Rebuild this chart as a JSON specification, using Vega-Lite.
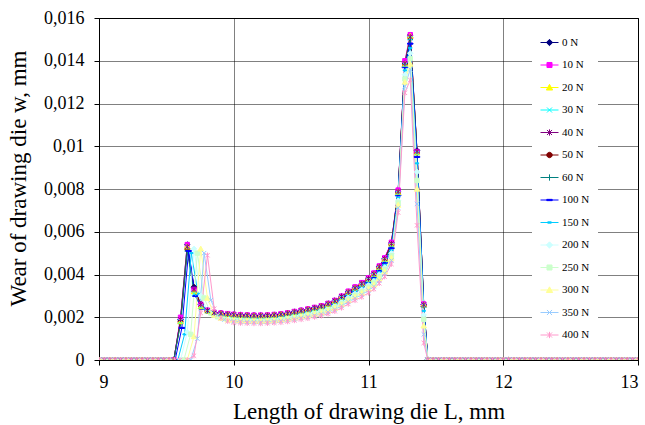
{
"$schema": "https://vega.github.io/schema/vega-lite/v6.json",
"width": 539,
"height": 342,
"autosize": {"type": "none"},
"padding": {"left": 99, "top": 18, "right": 7, "bottom": 65},
"background": "white",
"config": {
  "view": {"stroke": "black", "strokeWidth": 1},
  "font": "Liberation Serif, Times New Roman, DejaVu Serif, serif",
  "axis": {
    "domainColor": "black", "tickColor": "black", "labelColor": "black", "titleColor": "black",
    "labelFont": "Liberation Serif, Times New Roman, DejaVu Serif, serif", "titleFont": "Liberation Serif, Times New Roman, DejaVu Serif, serif",
    "labelFontSize": 18, "titleFontSize": 23, "titleFontWeight": "normal",
    "gridColor": "black", "gridDash": [1, 1], "gridOpacity": 1, "gridWidth": 1,
    "tickSize": 5
  }
},
"data": {"values": [
{"s":0,"x":9,"w":0},{"s":0,"x":9.04,"w":0},{"s":0,"x":9.08,"w":0},{"s":0,"x":9.12,"w":0},{"s":0,"x":9.16,"w":0},{"s":0,"x":9.2,"w":0},{"s":0,"x":9.24,"w":0},{"s":0,"x":9.28,"w":0},{"s":0,"x":9.32,"w":0},{"s":0,"x":9.36,"w":0},{"s":0,"x":9.4,"w":0},{"s":0,"x":9.44,"w":0},{"s":0,"x":9.48,"w":0},{"s":0,"x":9.52,"w":0},
{"s":0,"x":9.555,"w":0},{"s":0,"x":9.605,"w":0.0019},{"s":0,"x":9.655,"w":0.0054},{"s":0,"x":9.705,"w":0.0034},{"s":0,"x":9.755,"w":0.0026},{"s":0,"x":9.805,"w":0.00232},{"s":0,"x":9.855,"w":0.00222},{"s":0,"x":9.905,"w":0.00219},{"s":0,"x":9.955,"w":0.00216},
{"s":0,"x":10,"w":0.00213},{"s":0,"x":10.05,"w":0.00211},{"s":0,"x":10.1,"w":0.0021},{"s":0,"x":10.15,"w":0.00209},{"s":0,"x":10.2,"w":0.00209},{"s":0,"x":10.25,"w":0.0021},{"s":0,"x":10.3,"w":0.00212},{"s":0,"x":10.35,"w":0.00215},{"s":0,"x":10.4,"w":0.0022},{"s":0,"x":10.45,"w":0.00226},{"s":0,"x":10.5,"w":0.00232},{"s":0,"x":10.55,"w":0.00238},{"s":0,"x":10.6,"w":0.00245},{"s":0,"x":10.65,"w":0.00253},{"s":0,"x":10.7,"w":0.00264},{"s":0,"x":10.75,"w":0.00278},{"s":0,"x":10.8,"w":0.00298},{"s":0,"x":10.85,"w":0.0032},{"s":0,"x":10.9,"w":0.0034},{"s":0,"x":10.95,"w":0.0036},{"s":0,"x":11,"w":0.00383},{"s":0,"x":11.04,"w":0.00405},{"s":0,"x":11.08,"w":0.00438},{"s":0,"x":11.12,"w":0.00476},{"s":0,"x":11.17,"w":0.00548},
{"s":0,"x":11.22,"w":0.0079},{"s":0,"x":11.27,"w":0.0139},{"s":0,"x":11.31,"w":0.0152},{"s":0,"x":11.36,"w":0.0098},{"s":0,"x":11.41,"w":0.0026},
{"s":0,"x":11.44,"w":0},{"s":0,"x":11.48,"w":0},{"s":0,"x":11.52,"w":0},{"s":0,"x":11.56,"w":0},{"s":0,"x":11.6,"w":0},{"s":0,"x":11.64,"w":0},{"s":0,"x":11.68,"w":0},{"s":0,"x":11.72,"w":0},{"s":0,"x":11.76,"w":0},{"s":0,"x":11.8,"w":0},{"s":0,"x":11.84,"w":0},{"s":0,"x":11.88,"w":0},{"s":0,"x":11.92,"w":0},{"s":0,"x":11.96,"w":0},{"s":0,"x":12,"w":0},{"s":0,"x":12.04,"w":0},{"s":0,"x":12.08,"w":0},{"s":0,"x":12.12,"w":0},{"s":0,"x":12.16,"w":0},{"s":0,"x":12.2,"w":0},{"s":0,"x":12.24,"w":0},{"s":0,"x":12.28,"w":0},{"s":0,"x":12.32,"w":0},{"s":0,"x":12.36,"w":0},{"s":0,"x":12.4,"w":0},{"s":0,"x":12.44,"w":0},{"s":0,"x":12.48,"w":0},{"s":0,"x":12.52,"w":0},{"s":0,"x":12.56,"w":0},{"s":0,"x":12.6,"w":0},{"s":0,"x":12.64,"w":0},{"s":0,"x":12.68,"w":0},{"s":0,"x":12.72,"w":0},{"s":0,"x":12.76,"w":0},{"s":0,"x":12.8,"w":0},{"s":0,"x":12.84,"w":0},{"s":0,"x":12.88,"w":0},{"s":0,"x":12.92,"w":0},{"s":0,"x":12.96,"w":0},{"s":0,"x":13,"w":0},

{"s":10,"x":9,"w":0},{"s":10,"x":9.04,"w":0},{"s":10,"x":9.08,"w":0},{"s":10,"x":9.12,"w":0},{"s":10,"x":9.16,"w":0},{"s":10,"x":9.2,"w":0},{"s":10,"x":9.24,"w":0},{"s":10,"x":9.28,"w":0},{"s":10,"x":9.32,"w":0},{"s":10,"x":9.36,"w":0},{"s":10,"x":9.4,"w":0},{"s":10,"x":9.44,"w":0},{"s":10,"x":9.48,"w":0},{"s":10,"x":9.52,"w":0},
{"s":10,"x":9.555,"w":0},{"s":10,"x":9.605,"w":0.002},{"s":10,"x":9.655,"w":0.0054},{"s":10,"x":9.705,"w":0.0033},{"s":10,"x":9.755,"w":0.0026},{"s":10,"x":9.805,"w":0.00233},{"s":10,"x":9.855,"w":0.00223},{"s":10,"x":9.905,"w":0.0022},{"s":10,"x":9.955,"w":0.00217},
{"s":10,"x":10,"w":0.00214},{"s":10,"x":10.05,"w":0.00212},{"s":10,"x":10.1,"w":0.00211},{"s":10,"x":10.15,"w":0.0021},{"s":10,"x":10.2,"w":0.0021},{"s":10,"x":10.25,"w":0.00211},{"s":10,"x":10.3,"w":0.00213},{"s":10,"x":10.35,"w":0.00216},{"s":10,"x":10.4,"w":0.00221},{"s":10,"x":10.45,"w":0.00227},{"s":10,"x":10.5,"w":0.00233},{"s":10,"x":10.55,"w":0.00239},{"s":10,"x":10.6,"w":0.00246},{"s":10,"x":10.65,"w":0.00254},{"s":10,"x":10.7,"w":0.00265},{"s":10,"x":10.75,"w":0.00279},{"s":10,"x":10.8,"w":0.00299},{"s":10,"x":10.85,"w":0.00322},{"s":10,"x":10.9,"w":0.00342},{"s":10,"x":10.95,"w":0.00362},{"s":10,"x":11,"w":0.00385},{"s":10,"x":11.04,"w":0.00407},{"s":10,"x":11.08,"w":0.0044},{"s":10,"x":11.12,"w":0.00478},{"s":10,"x":11.17,"w":0.00551},
{"s":10,"x":11.22,"w":0.00795},{"s":10,"x":11.27,"w":0.014},{"s":10,"x":11.31,"w":0.01522},{"s":10,"x":11.36,"w":0.00975},{"s":10,"x":11.41,"w":0.00262},
{"s":10,"x":11.44,"w":0},{"s":10,"x":11.48,"w":0},{"s":10,"x":11.52,"w":0},{"s":10,"x":11.56,"w":0},{"s":10,"x":11.6,"w":0},{"s":10,"x":11.64,"w":0},{"s":10,"x":11.68,"w":0},{"s":10,"x":11.72,"w":0},{"s":10,"x":11.76,"w":0},{"s":10,"x":11.8,"w":0},{"s":10,"x":11.84,"w":0},{"s":10,"x":11.88,"w":0},{"s":10,"x":11.92,"w":0},{"s":10,"x":11.96,"w":0},{"s":10,"x":12,"w":0},{"s":10,"x":12.04,"w":0},{"s":10,"x":12.08,"w":0},{"s":10,"x":12.12,"w":0},{"s":10,"x":12.16,"w":0},{"s":10,"x":12.2,"w":0},{"s":10,"x":12.24,"w":0},{"s":10,"x":12.28,"w":0},{"s":10,"x":12.32,"w":0},{"s":10,"x":12.36,"w":0},{"s":10,"x":12.4,"w":0},{"s":10,"x":12.44,"w":0},{"s":10,"x":12.48,"w":0},{"s":10,"x":12.52,"w":0},{"s":10,"x":12.56,"w":0},{"s":10,"x":12.6,"w":0},{"s":10,"x":12.64,"w":0},{"s":10,"x":12.68,"w":0},{"s":10,"x":12.72,"w":0},{"s":10,"x":12.76,"w":0},{"s":10,"x":12.8,"w":0},{"s":10,"x":12.84,"w":0},{"s":10,"x":12.88,"w":0},{"s":10,"x":12.92,"w":0},{"s":10,"x":12.96,"w":0},{"s":10,"x":13,"w":0},

{"s":20,"x":9,"w":0},{"s":20,"x":9.04,"w":0},{"s":20,"x":9.08,"w":0},{"s":20,"x":9.12,"w":0},{"s":20,"x":9.16,"w":0},{"s":20,"x":9.2,"w":0},{"s":20,"x":9.24,"w":0},{"s":20,"x":9.28,"w":0},{"s":20,"x":9.32,"w":0},{"s":20,"x":9.36,"w":0},{"s":20,"x":9.4,"w":0},{"s":20,"x":9.44,"w":0},{"s":20,"x":9.48,"w":0},{"s":20,"x":9.52,"w":0},
{"s":20,"x":9.555,"w":0},{"s":20,"x":9.605,"w":0.0018},{"s":20,"x":9.655,"w":0.0053},{"s":20,"x":9.705,"w":0.0032},{"s":20,"x":9.755,"w":0.0025},{"s":20,"x":9.805,"w":0.0023},{"s":20,"x":9.855,"w":0.0022},{"s":20,"x":9.905,"w":0.00217},{"s":20,"x":9.955,"w":0.00214},
{"s":20,"x":10,"w":0.00211},{"s":20,"x":10.05,"w":0.00209},{"s":20,"x":10.1,"w":0.00208},{"s":20,"x":10.15,"w":0.00207},{"s":20,"x":10.2,"w":0.00207},{"s":20,"x":10.25,"w":0.00208},{"s":20,"x":10.3,"w":0.0021},{"s":20,"x":10.35,"w":0.00213},{"s":20,"x":10.4,"w":0.00218},{"s":20,"x":10.45,"w":0.00224},{"s":20,"x":10.5,"w":0.0023},{"s":20,"x":10.55,"w":0.00236},{"s":20,"x":10.6,"w":0.00243},{"s":20,"x":10.65,"w":0.0025},{"s":20,"x":10.7,"w":0.00261},{"s":20,"x":10.75,"w":0.00275},{"s":20,"x":10.8,"w":0.00295},{"s":20,"x":10.85,"w":0.00317},{"s":20,"x":10.9,"w":0.00337},{"s":20,"x":10.95,"w":0.00356},{"s":20,"x":11,"w":0.00379},{"s":20,"x":11.04,"w":0.00401},{"s":20,"x":11.08,"w":0.00434},{"s":20,"x":11.12,"w":0.00471},{"s":20,"x":11.17,"w":0.00543},
{"s":20,"x":11.22,"w":0.00785},{"s":20,"x":11.27,"w":0.01385},{"s":20,"x":11.31,"w":0.01515},{"s":20,"x":11.36,"w":0.0097},{"s":20,"x":11.41,"w":0.00258},
{"s":20,"x":11.44,"w":0},{"s":20,"x":11.48,"w":0},{"s":20,"x":11.52,"w":0},{"s":20,"x":11.56,"w":0},{"s":20,"x":11.6,"w":0},{"s":20,"x":11.64,"w":0},{"s":20,"x":11.68,"w":0},{"s":20,"x":11.72,"w":0},{"s":20,"x":11.76,"w":0},{"s":20,"x":11.8,"w":0},{"s":20,"x":11.84,"w":0},{"s":20,"x":11.88,"w":0},{"s":20,"x":11.92,"w":0},{"s":20,"x":11.96,"w":0},{"s":20,"x":12,"w":0},{"s":20,"x":12.04,"w":0},{"s":20,"x":12.08,"w":0},{"s":20,"x":12.12,"w":0},{"s":20,"x":12.16,"w":0},{"s":20,"x":12.2,"w":0},{"s":20,"x":12.24,"w":0},{"s":20,"x":12.28,"w":0},{"s":20,"x":12.32,"w":0},{"s":20,"x":12.36,"w":0},{"s":20,"x":12.4,"w":0},{"s":20,"x":12.44,"w":0},{"s":20,"x":12.48,"w":0},{"s":20,"x":12.52,"w":0},{"s":20,"x":12.56,"w":0},{"s":20,"x":12.6,"w":0},{"s":20,"x":12.64,"w":0},{"s":20,"x":12.68,"w":0},{"s":20,"x":12.72,"w":0},{"s":20,"x":12.76,"w":0},{"s":20,"x":12.8,"w":0},{"s":20,"x":12.84,"w":0},{"s":20,"x":12.88,"w":0},{"s":20,"x":12.92,"w":0},{"s":20,"x":12.96,"w":0},{"s":20,"x":13,"w":0},

{"s":30,"x":9,"w":0},{"s":30,"x":9.04,"w":0},{"s":30,"x":9.08,"w":0},{"s":30,"x":9.12,"w":0},{"s":30,"x":9.16,"w":0},{"s":30,"x":9.2,"w":0},{"s":30,"x":9.24,"w":0},{"s":30,"x":9.28,"w":0},{"s":30,"x":9.32,"w":0},{"s":30,"x":9.36,"w":0},{"s":30,"x":9.4,"w":0},{"s":30,"x":9.44,"w":0},{"s":30,"x":9.48,"w":0},{"s":30,"x":9.52,"w":0},
{"s":30,"x":9.555,"w":0},{"s":30,"x":9.605,"w":0.0018},{"s":30,"x":9.655,"w":0.0053},{"s":30,"x":9.705,"w":0.0031},{"s":30,"x":9.755,"w":0.0025},{"s":30,"x":9.805,"w":0.00228},{"s":30,"x":9.855,"w":0.00219},{"s":30,"x":9.905,"w":0.00215},{"s":30,"x":9.955,"w":0.00212},
{"s":30,"x":10,"w":0.00209},{"s":30,"x":10.05,"w":0.00207},{"s":30,"x":10.1,"w":0.00206},{"s":30,"x":10.15,"w":0.00205},{"s":30,"x":10.2,"w":0.00205},{"s":30,"x":10.25,"w":0.00206},{"s":30,"x":10.3,"w":0.00208},{"s":30,"x":10.35,"w":0.00211},{"s":30,"x":10.4,"w":0.00216},{"s":30,"x":10.45,"w":0.00221},{"s":30,"x":10.5,"w":0.00227},{"s":30,"x":10.55,"w":0.00233},{"s":30,"x":10.6,"w":0.0024},{"s":30,"x":10.65,"w":0.00248},{"s":30,"x":10.7,"w":0.00259},{"s":30,"x":10.75,"w":0.00272},{"s":30,"x":10.8,"w":0.00292},{"s":30,"x":10.85,"w":0.00314},{"s":30,"x":10.9,"w":0.00333},{"s":30,"x":10.95,"w":0.00353},{"s":30,"x":11,"w":0.00375},{"s":30,"x":11.04,"w":0.00397},{"s":30,"x":11.08,"w":0.00429},{"s":30,"x":11.12,"w":0.00466},{"s":30,"x":11.17,"w":0.00537},
{"s":30,"x":11.22,"w":0.0078},{"s":30,"x":11.27,"w":0.0138},{"s":30,"x":11.31,"w":0.01505},{"s":30,"x":11.36,"w":0.00968},{"s":30,"x":11.41,"w":0.00255},
{"s":30,"x":11.44,"w":0},{"s":30,"x":11.48,"w":0},{"s":30,"x":11.52,"w":0},{"s":30,"x":11.56,"w":0},{"s":30,"x":11.6,"w":0},{"s":30,"x":11.64,"w":0},{"s":30,"x":11.68,"w":0},{"s":30,"x":11.72,"w":0},{"s":30,"x":11.76,"w":0},{"s":30,"x":11.8,"w":0},{"s":30,"x":11.84,"w":0},{"s":30,"x":11.88,"w":0},{"s":30,"x":11.92,"w":0},{"s":30,"x":11.96,"w":0},{"s":30,"x":12,"w":0},{"s":30,"x":12.04,"w":0},{"s":30,"x":12.08,"w":0},{"s":30,"x":12.12,"w":0},{"s":30,"x":12.16,"w":0},{"s":30,"x":12.2,"w":0},{"s":30,"x":12.24,"w":0},{"s":30,"x":12.28,"w":0},{"s":30,"x":12.32,"w":0},{"s":30,"x":12.36,"w":0},{"s":30,"x":12.4,"w":0},{"s":30,"x":12.44,"w":0},{"s":30,"x":12.48,"w":0},{"s":30,"x":12.52,"w":0},{"s":30,"x":12.56,"w":0},{"s":30,"x":12.6,"w":0},{"s":30,"x":12.64,"w":0},{"s":30,"x":12.68,"w":0},{"s":30,"x":12.72,"w":0},{"s":30,"x":12.76,"w":0},{"s":30,"x":12.8,"w":0},{"s":30,"x":12.84,"w":0},{"s":30,"x":12.88,"w":0},{"s":30,"x":12.92,"w":0},{"s":30,"x":12.96,"w":0},{"s":30,"x":13,"w":0},

{"s":40,"x":9,"w":0},{"s":40,"x":9.04,"w":0},{"s":40,"x":9.08,"w":0},{"s":40,"x":9.12,"w":0},{"s":40,"x":9.16,"w":0},{"s":40,"x":9.2,"w":0},{"s":40,"x":9.24,"w":0},{"s":40,"x":9.28,"w":0},{"s":40,"x":9.32,"w":0},{"s":40,"x":9.36,"w":0},{"s":40,"x":9.4,"w":0},{"s":40,"x":9.44,"w":0},{"s":40,"x":9.48,"w":0},{"s":40,"x":9.52,"w":0},
{"s":40,"x":9.555,"w":0},{"s":40,"x":9.605,"w":0.0019},{"s":40,"x":9.655,"w":0.0053},{"s":40,"x":9.705,"w":0.0033},{"s":40,"x":9.755,"w":0.0026},{"s":40,"x":9.805,"w":0.00231},{"s":40,"x":9.855,"w":0.00221},{"s":40,"x":9.905,"w":0.00218},{"s":40,"x":9.955,"w":0.00215},
{"s":40,"x":10,"w":0.00212},{"s":40,"x":10.05,"w":0.0021},{"s":40,"x":10.1,"w":0.00209},{"s":40,"x":10.15,"w":0.00208},{"s":40,"x":10.2,"w":0.00208},{"s":40,"x":10.25,"w":0.00209},{"s":40,"x":10.3,"w":0.00211},{"s":40,"x":10.35,"w":0.00214},{"s":40,"x":10.4,"w":0.00219},{"s":40,"x":10.45,"w":0.00225},{"s":40,"x":10.5,"w":0.00231},{"s":40,"x":10.55,"w":0.00237},{"s":40,"x":10.6,"w":0.00244},{"s":40,"x":10.65,"w":0.00252},{"s":40,"x":10.7,"w":0.00263},{"s":40,"x":10.75,"w":0.00277},{"s":40,"x":10.8,"w":0.00297},{"s":40,"x":10.85,"w":0.00318},{"s":40,"x":10.9,"w":0.00338},{"s":40,"x":10.95,"w":0.00358},{"s":40,"x":11,"w":0.00381},{"s":40,"x":11.04,"w":0.00403},{"s":40,"x":11.08,"w":0.00436},{"s":40,"x":11.12,"w":0.00474},{"s":40,"x":11.17,"w":0.00545},
{"s":40,"x":11.22,"w":0.00788},{"s":40,"x":11.27,"w":0.01388},{"s":40,"x":11.31,"w":0.01512},{"s":40,"x":11.36,"w":0.00976},{"s":40,"x":11.41,"w":0.00259},
{"s":40,"x":11.44,"w":0},{"s":40,"x":11.48,"w":0},{"s":40,"x":11.52,"w":0},{"s":40,"x":11.56,"w":0},{"s":40,"x":11.6,"w":0},{"s":40,"x":11.64,"w":0},{"s":40,"x":11.68,"w":0},{"s":40,"x":11.72,"w":0},{"s":40,"x":11.76,"w":0},{"s":40,"x":11.8,"w":0},{"s":40,"x":11.84,"w":0},{"s":40,"x":11.88,"w":0},{"s":40,"x":11.92,"w":0},{"s":40,"x":11.96,"w":0},{"s":40,"x":12,"w":0},{"s":40,"x":12.04,"w":0},{"s":40,"x":12.08,"w":0},{"s":40,"x":12.12,"w":0},{"s":40,"x":12.16,"w":0},{"s":40,"x":12.2,"w":0},{"s":40,"x":12.24,"w":0},{"s":40,"x":12.28,"w":0},{"s":40,"x":12.32,"w":0},{"s":40,"x":12.36,"w":0},{"s":40,"x":12.4,"w":0},{"s":40,"x":12.44,"w":0},{"s":40,"x":12.48,"w":0},{"s":40,"x":12.52,"w":0},{"s":40,"x":12.56,"w":0},{"s":40,"x":12.6,"w":0},{"s":40,"x":12.64,"w":0},{"s":40,"x":12.68,"w":0},{"s":40,"x":12.72,"w":0},{"s":40,"x":12.76,"w":0},{"s":40,"x":12.8,"w":0},{"s":40,"x":12.84,"w":0},{"s":40,"x":12.88,"w":0},{"s":40,"x":12.92,"w":0},{"s":40,"x":12.96,"w":0},{"s":40,"x":13,"w":0},

{"s":50,"x":9,"w":0},{"s":50,"x":9.04,"w":0},{"s":50,"x":9.08,"w":0},{"s":50,"x":9.12,"w":0},{"s":50,"x":9.16,"w":0},{"s":50,"x":9.2,"w":0},{"s":50,"x":9.24,"w":0},{"s":50,"x":9.28,"w":0},{"s":50,"x":9.32,"w":0},{"s":50,"x":9.36,"w":0},{"s":50,"x":9.4,"w":0},{"s":50,"x":9.44,"w":0},{"s":50,"x":9.48,"w":0},{"s":50,"x":9.52,"w":0},
{"s":50,"x":9.555,"w":0},{"s":50,"x":9.605,"w":0.0018},{"s":50,"x":9.655,"w":0.0052},{"s":50,"x":9.705,"w":0.0034},{"s":50,"x":9.755,"w":0.0026},{"s":50,"x":9.805,"w":0.0023},{"s":50,"x":9.855,"w":0.0022},{"s":50,"x":9.905,"w":0.00217},{"s":50,"x":9.955,"w":0.00214},
{"s":50,"x":10,"w":0.0021},{"s":50,"x":10.05,"w":0.00208},{"s":50,"x":10.1,"w":0.00207},{"s":50,"x":10.15,"w":0.00206},{"s":50,"x":10.2,"w":0.00206},{"s":50,"x":10.25,"w":0.00207},{"s":50,"x":10.3,"w":0.00209},{"s":50,"x":10.35,"w":0.00212},{"s":50,"x":10.4,"w":0.00217},{"s":50,"x":10.45,"w":0.00223},{"s":50,"x":10.5,"w":0.00229},{"s":50,"x":10.55,"w":0.00235},{"s":50,"x":10.6,"w":0.00242},{"s":50,"x":10.65,"w":0.0025},{"s":50,"x":10.7,"w":0.00261},{"s":50,"x":10.75,"w":0.00275},{"s":50,"x":10.8,"w":0.00294},{"s":50,"x":10.85,"w":0.00316},{"s":50,"x":10.9,"w":0.00336},{"s":50,"x":10.95,"w":0.00356},{"s":50,"x":11,"w":0.00378},{"s":50,"x":11.04,"w":0.004},{"s":50,"x":11.08,"w":0.00433},{"s":50,"x":11.12,"w":0.0047},{"s":50,"x":11.17,"w":0.00541},
{"s":50,"x":11.22,"w":0.00786},{"s":50,"x":11.27,"w":0.01384},{"s":50,"x":11.31,"w":0.01508},{"s":50,"x":11.36,"w":0.00972},{"s":50,"x":11.41,"w":0.00257},
{"s":50,"x":11.44,"w":0},{"s":50,"x":11.48,"w":0},{"s":50,"x":11.52,"w":0},{"s":50,"x":11.56,"w":0},{"s":50,"x":11.6,"w":0},{"s":50,"x":11.64,"w":0},{"s":50,"x":11.68,"w":0},{"s":50,"x":11.72,"w":0},{"s":50,"x":11.76,"w":0},{"s":50,"x":11.8,"w":0},{"s":50,"x":11.84,"w":0},{"s":50,"x":11.88,"w":0},{"s":50,"x":11.92,"w":0},{"s":50,"x":11.96,"w":0},{"s":50,"x":12,"w":0},{"s":50,"x":12.04,"w":0},{"s":50,"x":12.08,"w":0},{"s":50,"x":12.12,"w":0},{"s":50,"x":12.16,"w":0},{"s":50,"x":12.2,"w":0},{"s":50,"x":12.24,"w":0},{"s":50,"x":12.28,"w":0},{"s":50,"x":12.32,"w":0},{"s":50,"x":12.36,"w":0},{"s":50,"x":12.4,"w":0},{"s":50,"x":12.44,"w":0},{"s":50,"x":12.48,"w":0},{"s":50,"x":12.52,"w":0},{"s":50,"x":12.56,"w":0},{"s":50,"x":12.6,"w":0},{"s":50,"x":12.64,"w":0},{"s":50,"x":12.68,"w":0},{"s":50,"x":12.72,"w":0},{"s":50,"x":12.76,"w":0},{"s":50,"x":12.8,"w":0},{"s":50,"x":12.84,"w":0},{"s":50,"x":12.88,"w":0},{"s":50,"x":12.92,"w":0},{"s":50,"x":12.96,"w":0},{"s":50,"x":13,"w":0},

{"s":60,"x":9,"w":0},{"s":60,"x":9.04,"w":0},{"s":60,"x":9.08,"w":0},{"s":60,"x":9.12,"w":0},{"s":60,"x":9.16,"w":0},{"s":60,"x":9.2,"w":0},{"s":60,"x":9.24,"w":0},{"s":60,"x":9.28,"w":0},{"s":60,"x":9.32,"w":0},{"s":60,"x":9.36,"w":0},{"s":60,"x":9.4,"w":0},{"s":60,"x":9.44,"w":0},{"s":60,"x":9.48,"w":0},{"s":60,"x":9.52,"w":0},
{"s":60,"x":9.555,"w":0},{"s":60,"x":9.605,"w":0.0017},{"s":60,"x":9.655,"w":0.0051},{"s":60,"x":9.705,"w":0.0032},{"s":60,"x":9.755,"w":0.0025},{"s":60,"x":9.805,"w":0.00228},{"s":60,"x":9.855,"w":0.00218},{"s":60,"x":9.905,"w":0.00214},{"s":60,"x":9.955,"w":0.00211},
{"s":60,"x":10,"w":0.00208},{"s":60,"x":10.05,"w":0.00206},{"s":60,"x":10.1,"w":0.00205},{"s":60,"x":10.15,"w":0.00204},{"s":60,"x":10.2,"w":0.00204},{"s":60,"x":10.25,"w":0.00205},{"s":60,"x":10.3,"w":0.00207},{"s":60,"x":10.35,"w":0.0021},{"s":60,"x":10.4,"w":0.00215},{"s":60,"x":10.45,"w":0.0022},{"s":60,"x":10.5,"w":0.00226},{"s":60,"x":10.55,"w":0.00232},{"s":60,"x":10.6,"w":0.00239},{"s":60,"x":10.65,"w":0.00247},{"s":60,"x":10.7,"w":0.00257},{"s":60,"x":10.75,"w":0.00271},{"s":60,"x":10.8,"w":0.00291},{"s":60,"x":10.85,"w":0.00312},{"s":60,"x":10.9,"w":0.00332},{"s":60,"x":10.95,"w":0.00351},{"s":60,"x":11,"w":0.00373},{"s":60,"x":11.04,"w":0.00395},{"s":60,"x":11.08,"w":0.00427},{"s":60,"x":11.12,"w":0.00464},{"s":60,"x":11.17,"w":0.00534},
{"s":60,"x":11.22,"w":0.0078},{"s":60,"x":11.27,"w":0.01378},{"s":60,"x":11.31,"w":0.015},{"s":60,"x":11.36,"w":0.00965},{"s":60,"x":11.41,"w":0.00254},
{"s":60,"x":11.44,"w":0},{"s":60,"x":11.48,"w":0},{"s":60,"x":11.52,"w":0},{"s":60,"x":11.56,"w":0},{"s":60,"x":11.6,"w":0},{"s":60,"x":11.64,"w":0},{"s":60,"x":11.68,"w":0},{"s":60,"x":11.72,"w":0},{"s":60,"x":11.76,"w":0},{"s":60,"x":11.8,"w":0},{"s":60,"x":11.84,"w":0},{"s":60,"x":11.88,"w":0},{"s":60,"x":11.92,"w":0},{"s":60,"x":11.96,"w":0},{"s":60,"x":12,"w":0},{"s":60,"x":12.04,"w":0},{"s":60,"x":12.08,"w":0},{"s":60,"x":12.12,"w":0},{"s":60,"x":12.16,"w":0},{"s":60,"x":12.2,"w":0},{"s":60,"x":12.24,"w":0},{"s":60,"x":12.28,"w":0},{"s":60,"x":12.32,"w":0},{"s":60,"x":12.36,"w":0},{"s":60,"x":12.4,"w":0},{"s":60,"x":12.44,"w":0},{"s":60,"x":12.48,"w":0},{"s":60,"x":12.52,"w":0},{"s":60,"x":12.56,"w":0},{"s":60,"x":12.6,"w":0},{"s":60,"x":12.64,"w":0},{"s":60,"x":12.68,"w":0},{"s":60,"x":12.72,"w":0},{"s":60,"x":12.76,"w":0},{"s":60,"x":12.8,"w":0},{"s":60,"x":12.84,"w":0},{"s":60,"x":12.88,"w":0},{"s":60,"x":12.92,"w":0},{"s":60,"x":12.96,"w":0},{"s":60,"x":13,"w":0},

{"s":100,"x":9,"w":0},{"s":100,"x":9.04,"w":0},{"s":100,"x":9.08,"w":0},{"s":100,"x":9.12,"w":0},{"s":100,"x":9.16,"w":0},{"s":100,"x":9.2,"w":0},{"s":100,"x":9.24,"w":0},{"s":100,"x":9.28,"w":0},{"s":100,"x":9.32,"w":0},{"s":100,"x":9.36,"w":0},{"s":100,"x":9.4,"w":0},{"s":100,"x":9.44,"w":0},{"s":100,"x":9.48,"w":0},{"s":100,"x":9.52,"w":0},
{"s":100,"x":9.565,"w":0},{"s":100,"x":9.615,"w":0.0015},{"s":100,"x":9.665,"w":0.0051},{"s":100,"x":9.715,"w":0.003},{"s":100,"x":9.765,"w":0.0024},{"s":100,"x":9.815,"w":0.00222},{"s":100,"x":9.865,"w":0.00212},{"s":100,"x":9.915,"w":0.00208},{"s":100,"x":9.965,"w":0.00206},
{"s":100,"x":10,"w":0.00203},{"s":100,"x":10.05,"w":0.00201},{"s":100,"x":10.1,"w":0.00201},{"s":100,"x":10.15,"w":0.002},{"s":100,"x":10.2,"w":0.002},{"s":100,"x":10.25,"w":0.00201},{"s":100,"x":10.3,"w":0.00202},{"s":100,"x":10.35,"w":0.00205},{"s":100,"x":10.4,"w":0.0021},{"s":100,"x":10.45,"w":0.00216},{"s":100,"x":10.5,"w":0.00222},{"s":100,"x":10.55,"w":0.00227},{"s":100,"x":10.6,"w":0.00234},{"s":100,"x":10.65,"w":0.00242},{"s":100,"x":10.7,"w":0.00252},{"s":100,"x":10.75,"w":0.00265},{"s":100,"x":10.8,"w":0.00285},{"s":100,"x":10.85,"w":0.00306},{"s":100,"x":10.9,"w":0.00325},{"s":100,"x":10.95,"w":0.00344},{"s":100,"x":11,"w":0.00366},{"s":100,"x":11.04,"w":0.00387},{"s":100,"x":11.08,"w":0.00418},{"s":100,"x":11.12,"w":0.00455},{"s":100,"x":11.17,"w":0.00523},
{"s":100,"x":11.22,"w":0.0077},{"s":100,"x":11.27,"w":0.0137},{"s":100,"x":11.31,"w":0.0148},{"s":100,"x":11.36,"w":0.0095},{"s":100,"x":11.41,"w":0.0025},
{"s":100,"x":11.44,"w":0},{"s":100,"x":11.48,"w":0},{"s":100,"x":11.52,"w":0},{"s":100,"x":11.56,"w":0},{"s":100,"x":11.6,"w":0},{"s":100,"x":11.64,"w":0},{"s":100,"x":11.68,"w":0},{"s":100,"x":11.72,"w":0},{"s":100,"x":11.76,"w":0},{"s":100,"x":11.8,"w":0},{"s":100,"x":11.84,"w":0},{"s":100,"x":11.88,"w":0},{"s":100,"x":11.92,"w":0},{"s":100,"x":11.96,"w":0},{"s":100,"x":12,"w":0},{"s":100,"x":12.04,"w":0},{"s":100,"x":12.08,"w":0},{"s":100,"x":12.12,"w":0},{"s":100,"x":12.16,"w":0},{"s":100,"x":12.2,"w":0},{"s":100,"x":12.24,"w":0},{"s":100,"x":12.28,"w":0},{"s":100,"x":12.32,"w":0},{"s":100,"x":12.36,"w":0},{"s":100,"x":12.4,"w":0},{"s":100,"x":12.44,"w":0},{"s":100,"x":12.48,"w":0},{"s":100,"x":12.52,"w":0},{"s":100,"x":12.56,"w":0},{"s":100,"x":12.6,"w":0},{"s":100,"x":12.64,"w":0},{"s":100,"x":12.68,"w":0},{"s":100,"x":12.72,"w":0},{"s":100,"x":12.76,"w":0},{"s":100,"x":12.8,"w":0},{"s":100,"x":12.84,"w":0},{"s":100,"x":12.88,"w":0},{"s":100,"x":12.92,"w":0},{"s":100,"x":12.96,"w":0},{"s":100,"x":13,"w":0},

{"s":150,"x":9,"w":0},{"s":150,"x":9.04,"w":0},{"s":150,"x":9.08,"w":0},{"s":150,"x":9.12,"w":0},{"s":150,"x":9.16,"w":0},{"s":150,"x":9.2,"w":0},{"s":150,"x":9.24,"w":0},{"s":150,"x":9.28,"w":0},{"s":150,"x":9.32,"w":0},{"s":150,"x":9.36,"w":0},{"s":150,"x":9.4,"w":0},{"s":150,"x":9.44,"w":0},{"s":150,"x":9.48,"w":0},{"s":150,"x":9.52,"w":0},
{"s":150,"x":9.585,"w":0},{"s":150,"x":9.635,"w":0.0012},{"s":150,"x":9.685,"w":0.005},{"s":150,"x":9.735,"w":0.0031},{"s":150,"x":9.785,"w":0.0024},{"s":150,"x":9.835,"w":0.00218},{"s":150,"x":9.885,"w":0.00208},{"s":150,"x":9.935,"w":0.00203},
{"s":150,"x":10,"w":0.00199},{"s":150,"x":10.05,"w":0.00197},{"s":150,"x":10.1,"w":0.00196},{"s":150,"x":10.15,"w":0.00195},{"s":150,"x":10.2,"w":0.00195},{"s":150,"x":10.25,"w":0.00196},{"s":150,"x":10.3,"w":0.00198},{"s":150,"x":10.35,"w":0.00201},{"s":150,"x":10.4,"w":0.00206},{"s":150,"x":10.45,"w":0.00211},{"s":150,"x":10.5,"w":0.00217},{"s":150,"x":10.55,"w":0.00223},{"s":150,"x":10.6,"w":0.00229},{"s":150,"x":10.65,"w":0.00237},{"s":150,"x":10.7,"w":0.00247},{"s":150,"x":10.75,"w":0.0026},{"s":150,"x":10.8,"w":0.00279},{"s":150,"x":10.85,"w":0.00299},{"s":150,"x":10.9,"w":0.00318},{"s":150,"x":10.95,"w":0.00337},{"s":150,"x":11,"w":0.00358},{"s":150,"x":11.04,"w":0.00379},{"s":150,"x":11.08,"w":0.0041},{"s":150,"x":11.12,"w":0.00445},{"s":150,"x":11.17,"w":0.00512},
{"s":150,"x":11.22,"w":0.0076},{"s":150,"x":11.27,"w":0.01355},{"s":150,"x":11.31,"w":0.0146},{"s":150,"x":11.36,"w":0.0092},{"s":150,"x":11.41,"w":0.0023},
{"s":150,"x":11.44,"w":0},{"s":150,"x":11.48,"w":0},{"s":150,"x":11.52,"w":0},{"s":150,"x":11.56,"w":0},{"s":150,"x":11.6,"w":0},{"s":150,"x":11.64,"w":0},{"s":150,"x":11.68,"w":0},{"s":150,"x":11.72,"w":0},{"s":150,"x":11.76,"w":0},{"s":150,"x":11.8,"w":0},{"s":150,"x":11.84,"w":0},{"s":150,"x":11.88,"w":0},{"s":150,"x":11.92,"w":0},{"s":150,"x":11.96,"w":0},{"s":150,"x":12,"w":0},{"s":150,"x":12.04,"w":0},{"s":150,"x":12.08,"w":0},{"s":150,"x":12.12,"w":0},{"s":150,"x":12.16,"w":0},{"s":150,"x":12.2,"w":0},{"s":150,"x":12.24,"w":0},{"s":150,"x":12.28,"w":0},{"s":150,"x":12.32,"w":0},{"s":150,"x":12.36,"w":0},{"s":150,"x":12.4,"w":0},{"s":150,"x":12.44,"w":0},{"s":150,"x":12.48,"w":0},{"s":150,"x":12.52,"w":0},{"s":150,"x":12.56,"w":0},{"s":150,"x":12.6,"w":0},{"s":150,"x":12.64,"w":0},{"s":150,"x":12.68,"w":0},{"s":150,"x":12.72,"w":0},{"s":150,"x":12.76,"w":0},{"s":150,"x":12.8,"w":0},{"s":150,"x":12.84,"w":0},{"s":150,"x":12.88,"w":0},{"s":150,"x":12.92,"w":0},{"s":150,"x":12.96,"w":0},{"s":150,"x":13,"w":0},

{"s":200,"x":9,"w":0},{"s":200,"x":9.04,"w":0},{"s":200,"x":9.08,"w":0},{"s":200,"x":9.12,"w":0},{"s":200,"x":9.16,"w":0},{"s":200,"x":9.2,"w":0},{"s":200,"x":9.24,"w":0},{"s":200,"x":9.28,"w":0},{"s":200,"x":9.32,"w":0},{"s":200,"x":9.36,"w":0},{"s":200,"x":9.4,"w":0},{"s":200,"x":9.44,"w":0},{"s":200,"x":9.48,"w":0},{"s":200,"x":9.52,"w":0},
{"s":200,"x":9.605,"w":0},{"s":200,"x":9.655,"w":0.0013},{"s":200,"x":9.705,"w":0.0052},{"s":200,"x":9.755,"w":0.003},{"s":200,"x":9.805,"w":0.0023},{"s":200,"x":9.855,"w":0.0021},{"s":200,"x":9.905,"w":0.002},{"s":200,"x":9.955,"w":0.00197},
{"s":200,"x":10,"w":0.00194},{"s":200,"x":10.05,"w":0.00192},{"s":200,"x":10.1,"w":0.00191},{"s":200,"x":10.15,"w":0.0019},{"s":200,"x":10.2,"w":0.0019},{"s":200,"x":10.25,"w":0.00191},{"s":200,"x":10.3,"w":0.00193},{"s":200,"x":10.35,"w":0.00196},{"s":200,"x":10.4,"w":0.002},{"s":200,"x":10.45,"w":0.00206},{"s":200,"x":10.5,"w":0.00211},{"s":200,"x":10.55,"w":0.00217},{"s":200,"x":10.6,"w":0.00223},{"s":200,"x":10.65,"w":0.0023},{"s":200,"x":10.7,"w":0.0024},{"s":200,"x":10.75,"w":0.00253},{"s":200,"x":10.8,"w":0.00271},{"s":200,"x":10.85,"w":0.00291},{"s":200,"x":10.9,"w":0.00309},{"s":200,"x":10.95,"w":0.00328},{"s":200,"x":11,"w":0.00349},{"s":200,"x":11.04,"w":0.00369},{"s":200,"x":11.08,"w":0.00399},{"s":200,"x":11.12,"w":0.00433},{"s":200,"x":11.17,"w":0.00499},
{"s":200,"x":11.22,"w":0.00745},{"s":200,"x":11.27,"w":0.01335},{"s":200,"x":11.31,"w":0.01435},{"s":200,"x":11.36,"w":0.0088},{"s":200,"x":11.41,"w":0.0021},
{"s":200,"x":11.44,"w":0},{"s":200,"x":11.48,"w":0},{"s":200,"x":11.52,"w":0},{"s":200,"x":11.56,"w":0},{"s":200,"x":11.6,"w":0},{"s":200,"x":11.64,"w":0},{"s":200,"x":11.68,"w":0},{"s":200,"x":11.72,"w":0},{"s":200,"x":11.76,"w":0},{"s":200,"x":11.8,"w":0},{"s":200,"x":11.84,"w":0},{"s":200,"x":11.88,"w":0},{"s":200,"x":11.92,"w":0},{"s":200,"x":11.96,"w":0},{"s":200,"x":12,"w":0},{"s":200,"x":12.04,"w":0},{"s":200,"x":12.08,"w":0},{"s":200,"x":12.12,"w":0},{"s":200,"x":12.16,"w":0},{"s":200,"x":12.2,"w":0},{"s":200,"x":12.24,"w":0},{"s":200,"x":12.28,"w":0},{"s":200,"x":12.32,"w":0},{"s":200,"x":12.36,"w":0},{"s":200,"x":12.4,"w":0},{"s":200,"x":12.44,"w":0},{"s":200,"x":12.48,"w":0},{"s":200,"x":12.52,"w":0},{"s":200,"x":12.56,"w":0},{"s":200,"x":12.6,"w":0},{"s":200,"x":12.64,"w":0},{"s":200,"x":12.68,"w":0},{"s":200,"x":12.72,"w":0},{"s":200,"x":12.76,"w":0},{"s":200,"x":12.8,"w":0},{"s":200,"x":12.84,"w":0},{"s":200,"x":12.88,"w":0},{"s":200,"x":12.92,"w":0},{"s":200,"x":12.96,"w":0},{"s":200,"x":13,"w":0},

{"s":250,"x":9,"w":0},{"s":250,"x":9.04,"w":0},{"s":250,"x":9.08,"w":0},{"s":250,"x":9.12,"w":0},{"s":250,"x":9.16,"w":0},{"s":250,"x":9.2,"w":0},{"s":250,"x":9.24,"w":0},{"s":250,"x":9.28,"w":0},{"s":250,"x":9.32,"w":0},{"s":250,"x":9.36,"w":0},{"s":250,"x":9.4,"w":0},{"s":250,"x":9.44,"w":0},{"s":250,"x":9.48,"w":0},{"s":250,"x":9.52,"w":0},
{"s":250,"x":9.63,"w":0},{"s":250,"x":9.68,"w":0.0012},{"s":250,"x":9.73,"w":0.005},{"s":250,"x":9.78,"w":0.0029},{"s":250,"x":9.83,"w":0.0022},{"s":250,"x":9.88,"w":0.00202},{"s":250,"x":9.93,"w":0.00194},
{"s":250,"x":10,"w":0.0019},{"s":250,"x":10.05,"w":0.00188},{"s":250,"x":10.1,"w":0.00187},{"s":250,"x":10.15,"w":0.00186},{"s":250,"x":10.2,"w":0.00186},{"s":250,"x":10.25,"w":0.00187},{"s":250,"x":10.3,"w":0.00189},{"s":250,"x":10.35,"w":0.00191},{"s":250,"x":10.4,"w":0.00196},{"s":250,"x":10.45,"w":0.00201},{"s":250,"x":10.5,"w":0.00206},{"s":250,"x":10.55,"w":0.00212},{"s":250,"x":10.6,"w":0.00218},{"s":250,"x":10.65,"w":0.00225},{"s":250,"x":10.7,"w":0.00235},{"s":250,"x":10.75,"w":0.00247},{"s":250,"x":10.8,"w":0.00265},{"s":250,"x":10.85,"w":0.00285},{"s":250,"x":10.9,"w":0.00303},{"s":250,"x":10.95,"w":0.0032},{"s":250,"x":11,"w":0.00341},{"s":250,"x":11.04,"w":0.0036},{"s":250,"x":11.08,"w":0.0039},{"s":250,"x":11.12,"w":0.00424},{"s":250,"x":11.17,"w":0.00488},
{"s":250,"x":11.22,"w":0.00735},{"s":250,"x":11.27,"w":0.01315},{"s":250,"x":11.31,"w":0.0141},{"s":250,"x":11.36,"w":0.0084},{"s":250,"x":11.41,"w":0.0019},
{"s":250,"x":11.44,"w":0},{"s":250,"x":11.48,"w":0},{"s":250,"x":11.52,"w":0},{"s":250,"x":11.56,"w":0},{"s":250,"x":11.6,"w":0},{"s":250,"x":11.64,"w":0},{"s":250,"x":11.68,"w":0},{"s":250,"x":11.72,"w":0},{"s":250,"x":11.76,"w":0},{"s":250,"x":11.8,"w":0},{"s":250,"x":11.84,"w":0},{"s":250,"x":11.88,"w":0},{"s":250,"x":11.92,"w":0},{"s":250,"x":11.96,"w":0},{"s":250,"x":12,"w":0},{"s":250,"x":12.04,"w":0},{"s":250,"x":12.08,"w":0},{"s":250,"x":12.12,"w":0},{"s":250,"x":12.16,"w":0},{"s":250,"x":12.2,"w":0},{"s":250,"x":12.24,"w":0},{"s":250,"x":12.28,"w":0},{"s":250,"x":12.32,"w":0},{"s":250,"x":12.36,"w":0},{"s":250,"x":12.4,"w":0},{"s":250,"x":12.44,"w":0},{"s":250,"x":12.48,"w":0},{"s":250,"x":12.52,"w":0},{"s":250,"x":12.56,"w":0},{"s":250,"x":12.6,"w":0},{"s":250,"x":12.64,"w":0},{"s":250,"x":12.68,"w":0},{"s":250,"x":12.72,"w":0},{"s":250,"x":12.76,"w":0},{"s":250,"x":12.8,"w":0},{"s":250,"x":12.84,"w":0},{"s":250,"x":12.88,"w":0},{"s":250,"x":12.92,"w":0},{"s":250,"x":12.96,"w":0},{"s":250,"x":13,"w":0},

{"s":300,"x":9,"w":0},{"s":300,"x":9.04,"w":0},{"s":300,"x":9.08,"w":0},{"s":300,"x":9.12,"w":0},{"s":300,"x":9.16,"w":0},{"s":300,"x":9.2,"w":0},{"s":300,"x":9.24,"w":0},{"s":300,"x":9.28,"w":0},{"s":300,"x":9.32,"w":0},{"s":300,"x":9.36,"w":0},{"s":300,"x":9.4,"w":0},{"s":300,"x":9.44,"w":0},{"s":300,"x":9.48,"w":0},{"s":300,"x":9.52,"w":0},
{"s":300,"x":9.655,"w":0},{"s":300,"x":9.705,"w":0.0011},{"s":300,"x":9.755,"w":0.0052},{"s":300,"x":9.805,"w":0.0029},{"s":300,"x":9.855,"w":0.0021},{"s":300,"x":9.905,"w":0.00196},{"s":300,"x":9.955,"w":0.00188},
{"s":300,"x":10,"w":0.00185},{"s":300,"x":10.05,"w":0.00184},{"s":300,"x":10.1,"w":0.00183},{"s":300,"x":10.15,"w":0.00182},{"s":300,"x":10.2,"w":0.00182},{"s":300,"x":10.25,"w":0.00183},{"s":300,"x":10.3,"w":0.00184},{"s":300,"x":10.35,"w":0.00187},{"s":300,"x":10.4,"w":0.00191},{"s":300,"x":10.45,"w":0.00197},{"s":300,"x":10.5,"w":0.00202},{"s":300,"x":10.55,"w":0.00207},{"s":300,"x":10.6,"w":0.00213},{"s":300,"x":10.65,"w":0.0022},{"s":300,"x":10.7,"w":0.0023},{"s":300,"x":10.75,"w":0.00242},{"s":300,"x":10.8,"w":0.00259},{"s":300,"x":10.85,"w":0.00278},{"s":300,"x":10.9,"w":0.00296},{"s":300,"x":10.95,"w":0.00313},{"s":300,"x":11,"w":0.00333},{"s":300,"x":11.04,"w":0.00352},{"s":300,"x":11.08,"w":0.00381},{"s":300,"x":11.12,"w":0.00414},{"s":300,"x":11.17,"w":0.00477},
{"s":300,"x":11.22,"w":0.00725},{"s":300,"x":11.27,"w":0.013},{"s":300,"x":11.31,"w":0.01385},{"s":300,"x":11.36,"w":0.008},{"s":300,"x":11.41,"w":0.0016},
{"s":300,"x":11.44,"w":0},{"s":300,"x":11.48,"w":0},{"s":300,"x":11.52,"w":0},{"s":300,"x":11.56,"w":0},{"s":300,"x":11.6,"w":0},{"s":300,"x":11.64,"w":0},{"s":300,"x":11.68,"w":0},{"s":300,"x":11.72,"w":0},{"s":300,"x":11.76,"w":0},{"s":300,"x":11.8,"w":0},{"s":300,"x":11.84,"w":0},{"s":300,"x":11.88,"w":0},{"s":300,"x":11.92,"w":0},{"s":300,"x":11.96,"w":0},{"s":300,"x":12,"w":0},{"s":300,"x":12.04,"w":0},{"s":300,"x":12.08,"w":0},{"s":300,"x":12.12,"w":0},{"s":300,"x":12.16,"w":0},{"s":300,"x":12.2,"w":0},{"s":300,"x":12.24,"w":0},{"s":300,"x":12.28,"w":0},{"s":300,"x":12.32,"w":0},{"s":300,"x":12.36,"w":0},{"s":300,"x":12.4,"w":0},{"s":300,"x":12.44,"w":0},{"s":300,"x":12.48,"w":0},{"s":300,"x":12.52,"w":0},{"s":300,"x":12.56,"w":0},{"s":300,"x":12.6,"w":0},{"s":300,"x":12.64,"w":0},{"s":300,"x":12.68,"w":0},{"s":300,"x":12.72,"w":0},{"s":300,"x":12.76,"w":0},{"s":300,"x":12.8,"w":0},{"s":300,"x":12.84,"w":0},{"s":300,"x":12.88,"w":0},{"s":300,"x":12.92,"w":0},{"s":300,"x":12.96,"w":0},{"s":300,"x":13,"w":0},

{"s":350,"x":9,"w":0},{"s":350,"x":9.04,"w":0},{"s":350,"x":9.08,"w":0},{"s":350,"x":9.12,"w":0},{"s":350,"x":9.16,"w":0},{"s":350,"x":9.2,"w":0},{"s":350,"x":9.24,"w":0},{"s":350,"x":9.28,"w":0},{"s":350,"x":9.32,"w":0},{"s":350,"x":9.36,"w":0},{"s":350,"x":9.4,"w":0},{"s":350,"x":9.44,"w":0},{"s":350,"x":9.48,"w":0},{"s":350,"x":9.52,"w":0},
{"s":350,"x":9.68,"w":0},{"s":350,"x":9.73,"w":0.001},{"s":350,"x":9.78,"w":0.005},{"s":350,"x":9.83,"w":0.0028},{"s":350,"x":9.88,"w":0.0021},{"s":350,"x":9.93,"w":0.00189},
{"s":350,"x":10,"w":0.00181},{"s":350,"x":10.05,"w":0.00179},{"s":350,"x":10.1,"w":0.00178},{"s":350,"x":10.15,"w":0.00177},{"s":350,"x":10.2,"w":0.00177},{"s":350,"x":10.25,"w":0.00178},{"s":350,"x":10.3,"w":0.0018},{"s":350,"x":10.35,"w":0.00183},{"s":350,"x":10.4,"w":0.00187},{"s":350,"x":10.45,"w":0.00192},{"s":350,"x":10.5,"w":0.00197},{"s":350,"x":10.55,"w":0.00202},{"s":350,"x":10.6,"w":0.00208},{"s":350,"x":10.65,"w":0.00215},{"s":350,"x":10.7,"w":0.00224},{"s":350,"x":10.75,"w":0.00236},{"s":350,"x":10.8,"w":0.00253},{"s":350,"x":10.85,"w":0.00272},{"s":350,"x":10.9,"w":0.00289},{"s":350,"x":10.95,"w":0.00306},{"s":350,"x":11,"w":0.00326},{"s":350,"x":11.04,"w":0.00344},{"s":350,"x":11.08,"w":0.00372},{"s":350,"x":11.12,"w":0.00405},{"s":350,"x":11.17,"w":0.00466},
{"s":350,"x":11.22,"w":0.00712},{"s":350,"x":11.27,"w":0.0128},{"s":350,"x":11.31,"w":0.0136},{"s":350,"x":11.36,"w":0.0073},{"s":350,"x":11.41,"w":0.0012},
{"s":350,"x":11.44,"w":0},{"s":350,"x":11.48,"w":0},{"s":350,"x":11.52,"w":0},{"s":350,"x":11.56,"w":0},{"s":350,"x":11.6,"w":0},{"s":350,"x":11.64,"w":0},{"s":350,"x":11.68,"w":0},{"s":350,"x":11.72,"w":0},{"s":350,"x":11.76,"w":0},{"s":350,"x":11.8,"w":0},{"s":350,"x":11.84,"w":0},{"s":350,"x":11.88,"w":0},{"s":350,"x":11.92,"w":0},{"s":350,"x":11.96,"w":0},{"s":350,"x":12,"w":0},{"s":350,"x":12.04,"w":0},{"s":350,"x":12.08,"w":0},{"s":350,"x":12.12,"w":0},{"s":350,"x":12.16,"w":0},{"s":350,"x":12.2,"w":0},{"s":350,"x":12.24,"w":0},{"s":350,"x":12.28,"w":0},{"s":350,"x":12.32,"w":0},{"s":350,"x":12.36,"w":0},{"s":350,"x":12.4,"w":0},{"s":350,"x":12.44,"w":0},{"s":350,"x":12.48,"w":0},{"s":350,"x":12.52,"w":0},{"s":350,"x":12.56,"w":0},{"s":350,"x":12.6,"w":0},{"s":350,"x":12.64,"w":0},{"s":350,"x":12.68,"w":0},{"s":350,"x":12.72,"w":0},{"s":350,"x":12.76,"w":0},{"s":350,"x":12.8,"w":0},{"s":350,"x":12.84,"w":0},{"s":350,"x":12.88,"w":0},{"s":350,"x":12.92,"w":0},{"s":350,"x":12.96,"w":0},{"s":350,"x":13,"w":0},

{"s":400,"x":9,"w":0},{"s":400,"x":9.04,"w":0},{"s":400,"x":9.08,"w":0},{"s":400,"x":9.12,"w":0},{"s":400,"x":9.16,"w":0},{"s":400,"x":9.2,"w":0},{"s":400,"x":9.24,"w":0},{"s":400,"x":9.28,"w":0},{"s":400,"x":9.32,"w":0},{"s":400,"x":9.36,"w":0},{"s":400,"x":9.4,"w":0},{"s":400,"x":9.44,"w":0},{"s":400,"x":9.48,"w":0},{"s":400,"x":9.52,"w":0},
{"s":400,"x":9.56,"w":0},{"s":400,"x":9.6,"w":0},{"s":400,"x":9.655,"w":0},{"s":400,"x":9.705,"w":0.0002},{"s":400,"x":9.755,"w":0.0022},{"s":400,"x":9.805,"w":0.0049},{"s":400,"x":9.855,"w":0.0024},{"s":400,"x":9.905,"w":0.00196},{"s":400,"x":9.955,"w":0.00182},
{"s":400,"x":10,"w":0.00175},{"s":400,"x":10.05,"w":0.00173},{"s":400,"x":10.1,"w":0.00172},{"s":400,"x":10.15,"w":0.00171},{"s":400,"x":10.2,"w":0.00171},{"s":400,"x":10.25,"w":0.00172},{"s":400,"x":10.3,"w":0.00174},{"s":400,"x":10.35,"w":0.00176},{"s":400,"x":10.4,"w":0.0018},{"s":400,"x":10.45,"w":0.00185},{"s":400,"x":10.5,"w":0.0019},{"s":400,"x":10.55,"w":0.00195},{"s":400,"x":10.6,"w":0.00201},{"s":400,"x":10.65,"w":0.00207},{"s":400,"x":10.7,"w":0.00216},{"s":400,"x":10.75,"w":0.00228},{"s":400,"x":10.8,"w":0.00244},{"s":400,"x":10.85,"w":0.00262},{"s":400,"x":10.9,"w":0.00279},{"s":400,"x":10.95,"w":0.00295},{"s":400,"x":11,"w":0.00314},{"s":400,"x":11.04,"w":0.00332},{"s":400,"x":11.08,"w":0.00359},{"s":400,"x":11.12,"w":0.0039},{"s":400,"x":11.17,"w":0.00449},
{"s":400,"x":11.22,"w":0.0069},{"s":400,"x":11.27,"w":0.0125},{"s":400,"x":11.31,"w":0.0131},{"s":400,"x":11.36,"w":0.0063},{"s":400,"x":11.41,"w":0.0008},
{"s":400,"x":11.44,"w":0},{"s":400,"x":11.48,"w":0},{"s":400,"x":11.52,"w":0},{"s":400,"x":11.56,"w":0},{"s":400,"x":11.6,"w":0},{"s":400,"x":11.64,"w":0},{"s":400,"x":11.68,"w":0},{"s":400,"x":11.72,"w":0},{"s":400,"x":11.76,"w":0},{"s":400,"x":11.8,"w":0},{"s":400,"x":11.84,"w":0},{"s":400,"x":11.88,"w":0},{"s":400,"x":11.92,"w":0},{"s":400,"x":11.96,"w":0},{"s":400,"x":12,"w":0},{"s":400,"x":12.04,"w":0},{"s":400,"x":12.08,"w":0},{"s":400,"x":12.12,"w":0},{"s":400,"x":12.16,"w":0},{"s":400,"x":12.2,"w":0},{"s":400,"x":12.24,"w":0},{"s":400,"x":12.28,"w":0},{"s":400,"x":12.32,"w":0},{"s":400,"x":12.36,"w":0},{"s":400,"x":12.4,"w":0},{"s":400,"x":12.44,"w":0},{"s":400,"x":12.48,"w":0},{"s":400,"x":12.52,"w":0},{"s":400,"x":12.56,"w":0},{"s":400,"x":12.6,"w":0},{"s":400,"x":12.64,"w":0},{"s":400,"x":12.68,"w":0},{"s":400,"x":12.72,"w":0},{"s":400,"x":12.76,"w":0},{"s":400,"x":12.8,"w":0},{"s":400,"x":12.84,"w":0},{"s":400,"x":12.88,"w":0},{"s":400,"x":12.92,"w":0},{"s":400,"x":12.96,"w":0},{"s":400,"x":13,"w":0}
]},
"encoding": {
  "x": {
    "field": "x", "type": "quantitative",
    "scale": {"domain": [9, 13], "nice": false, "zero": false},
    "axis": {"values": [9, 10, 11, 12, 13], "title": "Length of drawing die L, mm", "labelPadding": 8, "titlePadding": 9, "grid": true}
  },
  "y": {
    "field": "w", "type": "quantitative",
    "scale": {"domain": [0, 0.016], "nice": false},
    "axis": {
      "values": [0, 0.002, 0.004, 0.006, 0.008, 0.01, 0.012, 0.014, 0.016],
      "labelExpr": "replace(format(datum.value, '~g'), '.', ',')",
      "title": "Wear of drawing die w, mm", "labelPadding": 10, "titlePadding": 13, "titleY": 160, "grid": true
    }
  }
},
"layer": [
  {
    "mark": {"type": "line", "strokeWidth": 1, "clip": true},
    "encoding": {
      "color": {
        "field": "s", "type": "nominal",
        "scale": {
          "domain": [0, 10, 20, 30, 40, 50, 60, 100, 150, 200, 250, 300, 350, 400],
          "range": ["#000080", "#FF00FF", "#FFFF00", "#00FFFF", "#800080", "#800000", "#008080", "#0000FF", "#00CCFF", "#CCFFFF", "#CCFFCC", "#FFFF99", "#99CCFF", "#FF99CC"]
        },
        "legend": {
          "title": null, "orient": "none", "legendX": 433, "legendY": 7, "direction": "vertical",
          "fillColor": "white", "padding": 8, "symbolSize": 324, "symbolStrokeWidth": 1,
          "labelFont": "Liberation Serif, Times New Roman, DejaVu Serif, serif", "labelFontSize": 11, "labelColor": "black",
          "rowPadding": 7.5, "labelOffset": 3,
          "labelExpr": "datum.label + ' N'",
          "encode": {
            "symbols": {
              "update": {
                "shape": {"signal": "['M-1,0H1M0,-0.35L0.35,0L0,0.35L-0.35,0Z','M-1,0H1M-0.28,-0.28H0.28V0.28H-0.28Z','M-1,0H1M0,-0.35L0.35,0.28H-0.35Z','M-1,0H1M-0.28,-0.28L0.28,0.28M-0.28,0.28L0.28,-0.28','M-1,0H1M-0.28,-0.28L0.28,0.28M-0.28,0.28L0.28,-0.28M0,-0.35V0.35','M-1,0H1M-0.3,0A0.3,0.3,0,1,0,0.3,0A0.3,0.3,0,1,0,-0.3,0Z','M-1,0H1M0,-0.35V0.35','M-1,0H1M-0.3,-0.07H0.3V0.07H-0.3Z','M-1,0H1M-0.2,-0.07H0.2V0.07H-0.2Z','M-1,0H1M0,-0.35L0.35,0L0,0.35L-0.35,0Z','M-1,0H1M-0.28,-0.28H0.28V0.28H-0.28Z','M-1,0H1M0,-0.35L0.35,0.28H-0.35Z','M-1,0H1M-0.28,-0.28L0.28,0.28M-0.28,0.28L0.28,-0.28','M-1,0H1M-0.28,-0.28L0.28,0.28M-0.28,0.28L0.28,-0.28M0,-0.35V0.35'][indexof([0,10,20,30,40,50,60,100,150,200,250,300,350,400], toNumber(datum.value))]"},
                "fill": {"scale": "color", "field": "value"},
                "stroke": {"scale": "color", "field": "value"},
                "strokeWidth": {"value": 1},
                "opacity": {"value": 1}
              }
            }
          }
        }
      }
    }
  },
  {
    "transform": [{"filter": {"field": "s", "oneOf": [50]}}],
    "mark": {"type": "point", "shape": "M-0.9,0A0.9,0.9,0,1,0,0.9,0A0.9,0.9,0,1,0,-0.9,0Z", "filled": true, "size": 30, "strokeWidth": 1, "opacity": 1, "clip": true},
    "encoding": {
      "fill": {"field": "s", "type": "nominal", "legend": null, "scale": {"domain": [0, 10, 20, 30, 40, 50, 60, 100, 150, 200, 250, 300, 350, 400], "range": ["#000080", "#FF00FF", "#FFFF00", "#00FFFF", "#800080", "#800000", "#008080", "#0000FF", "#00CCFF", "#CCFFFF", "#CCFFCC", "#FFFF99", "#99CCFF", "#FF99CC"]}},
      "stroke": {"field": "s", "type": "nominal", "legend": null, "scale": {"domain": [0, 10, 20, 30, 40, 50, 60, 100, 150, 200, 250, 300, 350, 400], "range": ["#000080", "#FF00FF", "#FFFF00", "#00FFFF", "#800080", "#800000", "#008080", "#0000FF", "#00CCFF", "#CCFFFF", "#CCFFCC", "#FFFF99", "#99CCFF", "#FF99CC"]}}
    }
  },
  {
    "transform": [{"filter": {"field": "s", "oneOf": [60]}}],
    "mark": {"type": "point", "shape": "M-1,0H1M0,-1V1", "filled": true, "size": 30, "strokeWidth": 1, "opacity": 1, "clip": true},
    "encoding": {
      "fill": {"field": "s", "type": "nominal", "legend": null, "scale": {"domain": [0, 10, 20, 30, 40, 50, 60, 100, 150, 200, 250, 300, 350, 400], "range": ["#000080", "#FF00FF", "#FFFF00", "#00FFFF", "#800080", "#800000", "#008080", "#0000FF", "#00CCFF", "#CCFFFF", "#CCFFCC", "#FFFF99", "#99CCFF", "#FF99CC"]}},
      "stroke": {"field": "s", "type": "nominal", "legend": null, "scale": {"domain": [0, 10, 20, 30, 40, 50, 60, 100, 150, 200, 250, 300, 350, 400], "range": ["#000080", "#FF00FF", "#FFFF00", "#00FFFF", "#800080", "#800000", "#008080", "#0000FF", "#00CCFF", "#CCFFFF", "#CCFFCC", "#FFFF99", "#99CCFF", "#FF99CC"]}}
    }
  },
  {
    "transform": [{"filter": {"field": "s", "oneOf": [100]}}],
    "mark": {"type": "point", "shape": "M-1,-0.2H1V0.2H-1Z", "filled": true, "size": 30, "strokeWidth": 1, "opacity": 1, "clip": true},
    "encoding": {
      "fill": {"field": "s", "type": "nominal", "legend": null, "scale": {"domain": [0, 10, 20, 30, 40, 50, 60, 100, 150, 200, 250, 300, 350, 400], "range": ["#000080", "#FF00FF", "#FFFF00", "#00FFFF", "#800080", "#800000", "#008080", "#0000FF", "#00CCFF", "#CCFFFF", "#CCFFCC", "#FFFF99", "#99CCFF", "#FF99CC"]}},
      "stroke": {"field": "s", "type": "nominal", "legend": null, "scale": {"domain": [0, 10, 20, 30, 40, 50, 60, 100, 150, 200, 250, 300, 350, 400], "range": ["#000080", "#FF00FF", "#FFFF00", "#00FFFF", "#800080", "#800000", "#008080", "#0000FF", "#00CCFF", "#CCFFFF", "#CCFFCC", "#FFFF99", "#99CCFF", "#FF99CC"]}}
    }
  },
  {
    "transform": [{"filter": {"field": "s", "oneOf": [150]}}],
    "mark": {"type": "point", "shape": "M-0.6,-0.2H0.6V0.2H-0.6Z", "filled": true, "size": 30, "strokeWidth": 1, "opacity": 1, "clip": true},
    "encoding": {
      "fill": {"field": "s", "type": "nominal", "legend": null, "scale": {"domain": [0, 10, 20, 30, 40, 50, 60, 100, 150, 200, 250, 300, 350, 400], "range": ["#000080", "#FF00FF", "#FFFF00", "#00FFFF", "#800080", "#800000", "#008080", "#0000FF", "#00CCFF", "#CCFFFF", "#CCFFCC", "#FFFF99", "#99CCFF", "#FF99CC"]}},
      "stroke": {"field": "s", "type": "nominal", "legend": null, "scale": {"domain": [0, 10, 20, 30, 40, 50, 60, 100, 150, 200, 250, 300, 350, 400], "range": ["#000080", "#FF00FF", "#FFFF00", "#00FFFF", "#800080", "#800000", "#008080", "#0000FF", "#00CCFF", "#CCFFFF", "#CCFFCC", "#FFFF99", "#99CCFF", "#FF99CC"]}}
    }
  },
  {
    "transform": [{"filter": {"field": "s", "oneOf": [0, 200]}}],
    "mark": {"type": "point", "shape": "M0,-1L1,0L0,1L-1,0Z", "filled": true, "size": 30, "strokeWidth": 1, "opacity": 1, "clip": true},
    "encoding": {
      "fill": {"field": "s", "type": "nominal", "legend": null, "scale": {"domain": [0, 10, 20, 30, 40, 50, 60, 100, 150, 200, 250, 300, 350, 400], "range": ["#000080", "#FF00FF", "#FFFF00", "#00FFFF", "#800080", "#800000", "#008080", "#0000FF", "#00CCFF", "#CCFFFF", "#CCFFCC", "#FFFF99", "#99CCFF", "#FF99CC"]}},
      "stroke": {"field": "s", "type": "nominal", "legend": null, "scale": {"domain": [0, 10, 20, 30, 40, 50, 60, 100, 150, 200, 250, 300, 350, 400], "range": ["#000080", "#FF00FF", "#FFFF00", "#00FFFF", "#800080", "#800000", "#008080", "#0000FF", "#00CCFF", "#CCFFFF", "#CCFFCC", "#FFFF99", "#99CCFF", "#FF99CC"]}}
    }
  },
  {
    "transform": [{"filter": {"field": "s", "oneOf": [10, 250]}}],
    "mark": {"type": "point", "shape": "M-0.8,-0.8H0.8V0.8H-0.8Z", "filled": true, "size": 30, "strokeWidth": 1, "opacity": 1, "clip": true},
    "encoding": {
      "fill": {"field": "s", "type": "nominal", "legend": null, "scale": {"domain": [0, 10, 20, 30, 40, 50, 60, 100, 150, 200, 250, 300, 350, 400], "range": ["#000080", "#FF00FF", "#FFFF00", "#00FFFF", "#800080", "#800000", "#008080", "#0000FF", "#00CCFF", "#CCFFFF", "#CCFFCC", "#FFFF99", "#99CCFF", "#FF99CC"]}},
      "stroke": {"field": "s", "type": "nominal", "legend": null, "scale": {"domain": [0, 10, 20, 30, 40, 50, 60, 100, 150, 200, 250, 300, 350, 400], "range": ["#000080", "#FF00FF", "#FFFF00", "#00FFFF", "#800080", "#800000", "#008080", "#0000FF", "#00CCFF", "#CCFFFF", "#CCFFCC", "#FFFF99", "#99CCFF", "#FF99CC"]}}
    }
  },
  {
    "transform": [{"filter": {"field": "s", "oneOf": [20, 300]}}],
    "mark": {"type": "point", "shape": "M0,-1L1,0.8H-1Z", "filled": true, "size": 30, "strokeWidth": 1, "opacity": 1, "clip": true},
    "encoding": {
      "fill": {"field": "s", "type": "nominal", "legend": null, "scale": {"domain": [0, 10, 20, 30, 40, 50, 60, 100, 150, 200, 250, 300, 350, 400], "range": ["#000080", "#FF00FF", "#FFFF00", "#00FFFF", "#800080", "#800000", "#008080", "#0000FF", "#00CCFF", "#CCFFFF", "#CCFFCC", "#FFFF99", "#99CCFF", "#FF99CC"]}},
      "stroke": {"field": "s", "type": "nominal", "legend": null, "scale": {"domain": [0, 10, 20, 30, 40, 50, 60, 100, 150, 200, 250, 300, 350, 400], "range": ["#000080", "#FF00FF", "#FFFF00", "#00FFFF", "#800080", "#800000", "#008080", "#0000FF", "#00CCFF", "#CCFFFF", "#CCFFCC", "#FFFF99", "#99CCFF", "#FF99CC"]}}
    }
  },
  {
    "transform": [{"filter": {"field": "s", "oneOf": [30, 350]}}],
    "mark": {"type": "point", "shape": "M-0.8,-0.8L0.8,0.8M-0.8,0.8L0.8,-0.8", "filled": true, "size": 30, "strokeWidth": 1, "opacity": 1, "clip": true},
    "encoding": {
      "fill": {"field": "s", "type": "nominal", "legend": null, "scale": {"domain": [0, 10, 20, 30, 40, 50, 60, 100, 150, 200, 250, 300, 350, 400], "range": ["#000080", "#FF00FF", "#FFFF00", "#00FFFF", "#800080", "#800000", "#008080", "#0000FF", "#00CCFF", "#CCFFFF", "#CCFFCC", "#FFFF99", "#99CCFF", "#FF99CC"]}},
      "stroke": {"field": "s", "type": "nominal", "legend": null, "scale": {"domain": [0, 10, 20, 30, 40, 50, 60, 100, 150, 200, 250, 300, 350, 400], "range": ["#000080", "#FF00FF", "#FFFF00", "#00FFFF", "#800080", "#800000", "#008080", "#0000FF", "#00CCFF", "#CCFFFF", "#CCFFCC", "#FFFF99", "#99CCFF", "#FF99CC"]}}
    }
  },
  {
    "transform": [{"filter": {"field": "s", "oneOf": [40, 400]}}],
    "mark": {"type": "point", "shape": "M-0.8,-0.8L0.8,0.8M-0.8,0.8L0.8,-0.8M0,-1V1", "filled": true, "size": 30, "strokeWidth": 1, "opacity": 1, "clip": true},
    "encoding": {
      "fill": {"field": "s", "type": "nominal", "legend": null, "scale": {"domain": [0, 10, 20, 30, 40, 50, 60, 100, 150, 200, 250, 300, 350, 400], "range": ["#000080", "#FF00FF", "#FFFF00", "#00FFFF", "#800080", "#800000", "#008080", "#0000FF", "#00CCFF", "#CCFFFF", "#CCFFCC", "#FFFF99", "#99CCFF", "#FF99CC"]}},
      "stroke": {"field": "s", "type": "nominal", "legend": null, "scale": {"domain": [0, 10, 20, 30, 40, 50, 60, 100, 150, 200, 250, 300, 350, 400], "range": ["#000080", "#FF00FF", "#FFFF00", "#00FFFF", "#800080", "#800000", "#008080", "#0000FF", "#00CCFF", "#CCFFFF", "#CCFFCC", "#FFFF99", "#99CCFF", "#FF99CC"]}}
    }
  }
]
}
